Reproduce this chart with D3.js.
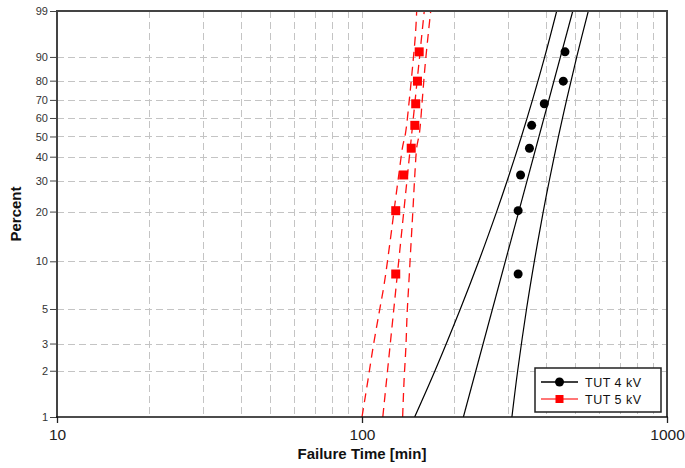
<!DOCTYPE html>
<html>
<head>
<meta charset="utf-8">
<script src="https://cdn.jsdelivr.net/npm/d3@7"></script>
<style>
  html, body { margin: 0; padding: 0; background: #fff; }
  svg { display: block; font-family: "Liberation Sans", Arial, Helvetica, sans-serif; }
</style>
</head>
<body>
<svg id="chart" width="685" height="468"></svg>
<script>
// Failure times [min] of the two test groups, ordered
const times4kV = [325, 325, 331, 354, 360, 396, 457, 463];
const times5kV = [129, 129, 137, 145, 149, 150, 152, 154];
// Median-rank plotting positions [%] for 8 samples
const rankPercent = [8.33, 20.24, 32.14, 44.05, 55.95, 67.86, 79.76, 91.67];

// Weibull fit lines, [time, percent]
const fit4kV = [[215, 1], [491, 99]];
const fit5kV = [[117, 1], [160, 99]];

// Confidence bounds, [time, percent]
const lower4kV = [[148.8, 1], [173.5, 2], [210.1, 5], [241.4, 10], [276.4, 20], [299.4, 30], [333.3, 50], [362.3, 70], [397.2, 90], [434.9, 99]];
const upper4kV = [[310.1, 1], [323.9, 2], [346.3, 5], [367.3, 10], [392.9, 20], [411.3, 30], [440.7, 50], [468.6, 70], [505.9, 90], [552.1, 99]];
const lower5kV = [[100, 1], [104.6, 1.74], [108.8, 2.86], [113.7, 4.69], [118.1, 7.1], [123.8, 13.5], [127.9, 21.4], [132.2, 32.8], [135.9, 44.8], [138.9, 51.8], [142.9, 69.9], [146.5, 86.3], [149.8, 96.3], [151.1, 99]];
const upper5kV = [[135.9, 1], [137.4, 1.74], [139.3, 2.86], [140.6, 4.69], [142.3, 7.1], [145, 13.5], [147.1, 21.4], [149.1, 32.8], [151.3, 44.8], [154.3, 51.8], [157.6, 69.9], [160.9, 86.3], [165, 96.3], [168, 99]];

// Axis ticks
const percentTicks = [1, 2, 3, 5, 10, 20, 30, 40, 50, 60, 70, 80, 90, 99];
const timeTicks = [10, 100, 1000];
const timeGrid = [20, 30, 40, 50, 60, 70, 80, 90, 100, 200, 300, 400, 500, 600, 700, 800, 900];

const seriesNames = ["TUT 4 kV", "TUT 5 kV"];

// Weibull probability transform
const wb = p => Math.log(-Math.log(1 - p / 100));

const L = 57, R = 667, T = 11, B = 417;
const svg = d3.select("#chart");

const x = d3.scaleLog().domain([10, 1000]).range([L, R]);
const y = d3.scaleLinear().domain([wb(1), wb(99)]).range([B, T]);

svg.append("defs").append("clipPath").attr("id", "plotClip")
  .append("rect").attr("x", L).attr("y", T).attr("width", R - L).attr("height", B - T);

// Grid
const grid = svg.append("g").attr("stroke", "#c4c4c4").attr("stroke-width", 1).attr("stroke-dasharray", "7,4");
grid.selectAll("line.h").data(percentTicks.filter(p => p > 1 && p < 99)).join("line")
  .attr("class", "h")
  .attr("x1", L).attr("x2", R)
  .attr("y1", d => Math.round(y(wb(d))) + 0.5).attr("y2", d => Math.round(y(wb(d))) + 0.5);
grid.selectAll("line.v").data(timeGrid).join("line")
  .attr("class", "v")
  .attr("y1", T).attr("y2", B)
  .attr("x1", d => Math.round(x(d)) + 0.5).attr("x2", d => Math.round(x(d)) + 0.5);

// Fit lines and bounds
const line = d3.line().x(d => x(d[0])).y(d => y(wb(d[1]))).curve(d3.curveCatmullRom);
const plot = svg.append("g").attr("clip-path", "url(#plotClip)");

[lower4kV, fit4kV, upper4kV].forEach(pts => {
  plot.append("path").attr("d", line(pts))
    .attr("fill", "none").attr("stroke", "#000").attr("stroke-width", 1.2);
});
[lower5kV, fit5kV, upper5kV].forEach(pts => {
  plot.append("path").attr("d", line(pts))
    .attr("fill", "none").attr("stroke", "#ff1010").attr("stroke-width", 1.3)
    .attr("stroke-dasharray", "9,6");
});

// Data points
plot.selectAll("circle.p4").data(times4kV).join("circle")
  .attr("class", "p4")
  .attr("cx", d => x(d)).attr("cy", (d, i) => y(wb(rankPercent[i])))
  .attr("r", 4.5).attr("fill", "#000");
plot.selectAll("rect.p5").data(times5kV).join("rect")
  .attr("class", "p5")
  .attr("x", d => x(d) - 4.5).attr("y", (d, i) => y(wb(rankPercent[i])) - 4.5)
  .attr("width", 9).attr("height", 9).attr("fill", "#ff0000");

// Axes
const yAxis = d3.axisLeft(y)
  .tickValues(percentTicks.map(wb))
  .tickFormat((d, i) => percentTicks[i])
  .tickSize(7).tickSizeOuter(0);
const gy = svg.append("g").attr("transform", `translate(${L},0)`).call(yAxis);
gy.select(".domain").remove();
gy.selectAll(".tick line").attr("stroke", "#444");
gy.selectAll(".tick text").attr("font-size", 11).attr("fill", "#333")
  .attr("font-family", "Liberation Sans, Arial, sans-serif").attr("x", -9);

const xAxis = d3.axisBottom(x)
  .tickValues(timeTicks)
  .tickFormat(d3.format("d"))
  .tickSize(6).tickSizeOuter(0);
const gx = svg.append("g").attr("transform", `translate(0,${B})`).call(xAxis);
gx.select(".domain").remove();
gx.selectAll(".tick line").attr("stroke", "#222").attr("stroke-width", 1.3);
gx.selectAll(".tick text").attr("font-size", 15.5).attr("fill", "#222")
  .attr("font-family", "Liberation Sans, Arial, sans-serif").attr("y", 12);

// Frame
svg.append("path")
  .attr("d", `M${L},${B}V${T}H${R}V${B}`)
  .attr("fill", "none").attr("stroke", "#444").attr("stroke-width", 2);
svg.append("line").attr("x1", L - 1).attr("x2", R + 1).attr("y1", B).attr("y2", B)
  .attr("stroke", "#111").attr("stroke-width", 1.6);

// Axis titles
svg.append("text").attr("x", (L + R) / 2).attr("y", 459)
  .attr("text-anchor", "middle").attr("font-size", 15).attr("font-weight", "bold")
  .attr("fill", "#111").text("Failure Time [min]");
svg.append("text").attr("transform", `translate(21,${(T + B) / 2}) rotate(-90)`)
  .attr("text-anchor", "middle").attr("font-size", 15).attr("font-weight", "bold")
  .attr("fill", "#111").text("Percent");

// Legend
const lg = svg.append("g").attr("transform", "translate(535,368)");
lg.append("rect").attr("width", 126).attr("height", 44)
  .attr("fill", "#fff").attr("stroke", "#222").attr("stroke-width", 1.5);
const rows = lg.selectAll("g.row").data(seriesNames).join("g")
  .attr("class", "row")
  .attr("transform", (d, i) => `translate(0,${14 + i * 17})`);
rows.append("line").attr("x1", 6).attr("x2", 43).attr("y1", 0).attr("y2", 0)
  .attr("stroke", (d, i) => i === 0 ? "#000" : "#ff4848").attr("stroke-width", 1.4);
rows.filter((d, i) => i === 0).append("circle").attr("cx", 24.5).attr("cy", 0).attr("r", 4.5).attr("fill", "#000");
rows.filter((d, i) => i === 1).append("rect").attr("x", 20.5).attr("y", -4).attr("width", 8).attr("height", 8).attr("fill", "#ff0000");
rows.append("text").attr("x", 50).attr("y", 4.5)
  .attr("font-size", 12.5).attr("letter-spacing", 0.5).attr("fill", "#111")
  .text(d => d);
</script>
</body>
</html>
